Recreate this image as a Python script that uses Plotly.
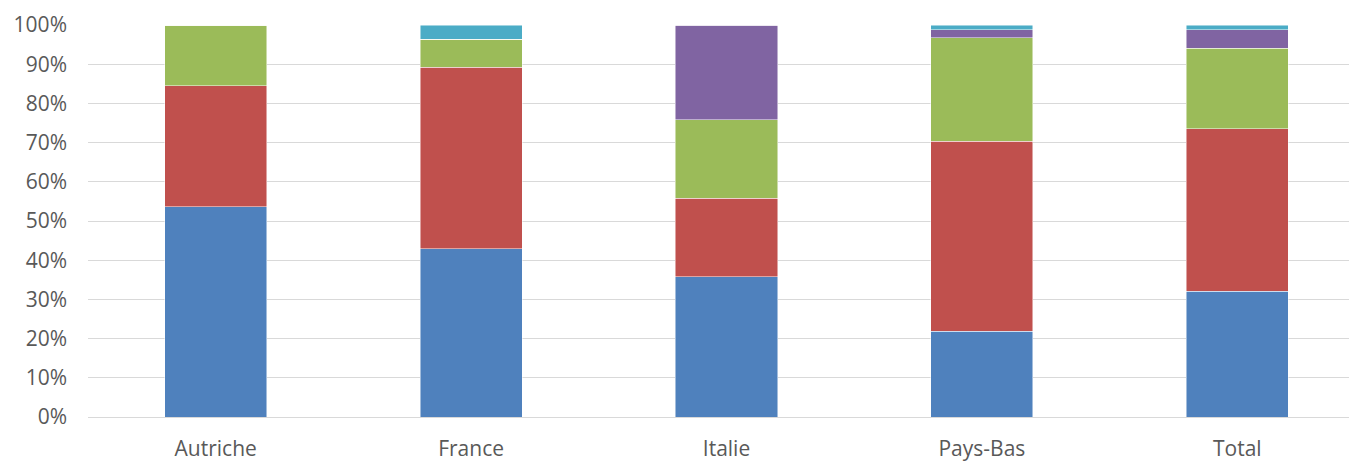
import plotly.graph_objects as go

categories = ["Autriche", "France", "Italie", "Pays-Bas", "Total"]
serie_1 = [53.7, 42.9, 35.8, 21.9, 32.1]
serie_2 = [30.8, 46.3, 20.0, 48.5, 41.4]
serie_3 = [15.5, 7.2, 20.0, 26.4, 20.6]
serie_4 = [0.0, 0.0, 24.2, 2.0, 4.7]
serie_5 = [0.0, 3.6, 0.0, 1.2, 1.2]

series = [
    ("Série 1", serie_1, "#4F81BD"),
    ("Série 2", serie_2, "#C0504D"),
    ("Série 3", serie_3, "#9BBB59"),
    ("Série 4", serie_4, "#8064A2"),
    ("Série 5", serie_5, "#4BACC6"),
]

fig = go.Figure()
for name, vals, col in series:
    fig.add_trace(go.Bar(
        x=categories, y=[v / 100 for v in vals], name=name,
        marker=dict(color=col, line=dict(color="rgba(255,255,255,0.6)", width=0.8)),
    ))

fig.update_layout(
    barmode="stack", bargap=0.6,
    width=1357, height=472,
    margin=dict(l=80, r=0, t=17, b=63),
    paper_bgcolor="white", plot_bgcolor="white",
    showlegend=False,
    font=dict(family="Open Sans", size=21, color="#595959"),
    xaxis=dict(range=[-0.5, 4.5], showgrid=False, showline=False, ticks="",
               ticklabelstandoff=17, automargin=False),
    yaxis=dict(range=[0, 1], tickvals=[i / 10 for i in range(11)], tickformat=".0%",
               showgrid=True, gridcolor="#D9D9D9", gridwidth=1,
               zeroline=True, zerolinecolor="#D9D9D9", zerolinewidth=1,
               showline=False, ticks="", ticklabelstandoff=20, automargin=False),
)

fig.write_html("out.html")
